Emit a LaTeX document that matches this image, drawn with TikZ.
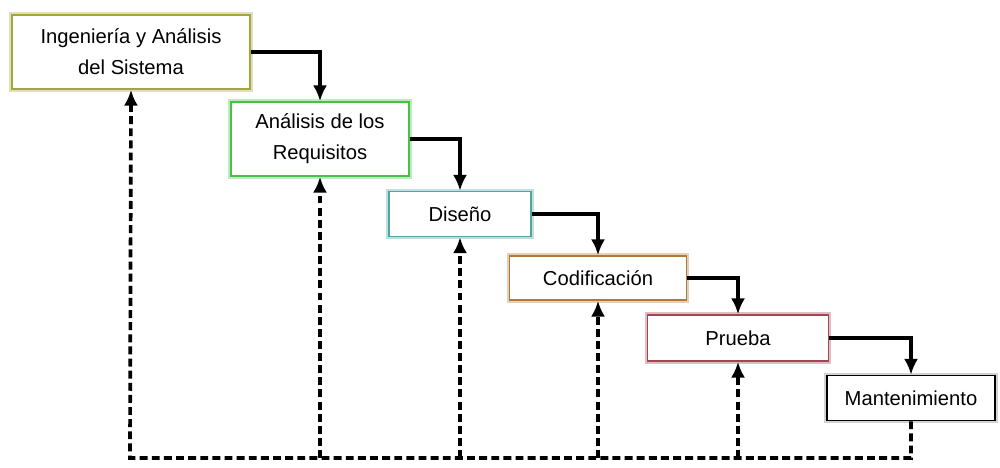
\documentclass[tikz,border=0pt]{standalone}
\usepackage{fontspec}
\setmainfont{Liberation Sans}
\usetikzlibrary{arrows.meta,positioning}

\definecolor{ingcol}{RGB}{165,165,60}
\definecolor{reqcol}{RGB}{70,195,70}
\definecolor{discol}{RGB}{80,165,165}
\definecolor{codcol}{RGB}{175,120,60}
\definecolor{prucol}{RGB}{160,70,85}

\begin{document}
\begin{tikzpicture}
[x=0.02cm, y=-0.02cm, font=\fontsize{11.5}{17.5}\selectfont,
% STYLES
% each phase box has a dark border with a soft coloured glow
fase/.style={rectangle, draw=#1, line width=0.9pt, inner sep=0pt, align=center, fill=white,
  preaction={draw=#1!35, line width=3pt}},
% solid arrows go down the cascade, dashed ones come back
flujo/.style={-{Latex[length=9pt,width=8pt]}, line width=2.1pt},
retro/.style={flujo, dash pattern=on 4.5pt off 2.4pt}]

\useasboundingbox (0,0) rectangle (1000,467);

% Phases
\node [fase=ingcol, minimum width=4.76cm, minimum height=1.48cm] (ing) at (131,52) {Ingeniería y Análisis\\del Sistema};
\node [fase=reqcol, minimum width=3.56cm, minimum height=1.48cm] (req) at (320,139) {Análisis de los\\Requisitos};
\node [fase=discol, minimum width=2.84cm, minimum height=0.9cm] (dis) at (460,214) {Diseño};
\node [fase=codcol, minimum width=3.54cm, minimum height=0.88cm] (cod) at (598,278) {Codificación};
\node [fase=prucol, minimum width=3.62cm, minimum height=0.92cm] (pru) at (738,338) {Prueba};
\node [fase=gray, draw=black, minimum width=3.36cm, minimum height=0.9cm] (man) at (911,398) {Mantenimiento};

\coordinate (esq) at (130,458);

%%%%%%%%%%%%%%%%

\draw[flujo] (ing.east) -| (req.north);
\draw[flujo] (req.east) -| (dis.north);
\draw[flujo] (dis.east) -| (cod.north);
\draw[flujo] (cod.east) -| (pru.north);
\draw[flujo] (pru.east) -| (man.north);

\draw[retro] (man.south) |- (esq) -- (ing.south);
\draw[retro] (req.south |- esq) -- (req.south);
\draw[retro] (dis.south |- esq) -- (dis.south);
\draw[retro] (cod.south |- esq) -- (cod.south);
\draw[retro] (pru.south |- esq) -- (pru.south);

\end{tikzpicture}
\end{document}
